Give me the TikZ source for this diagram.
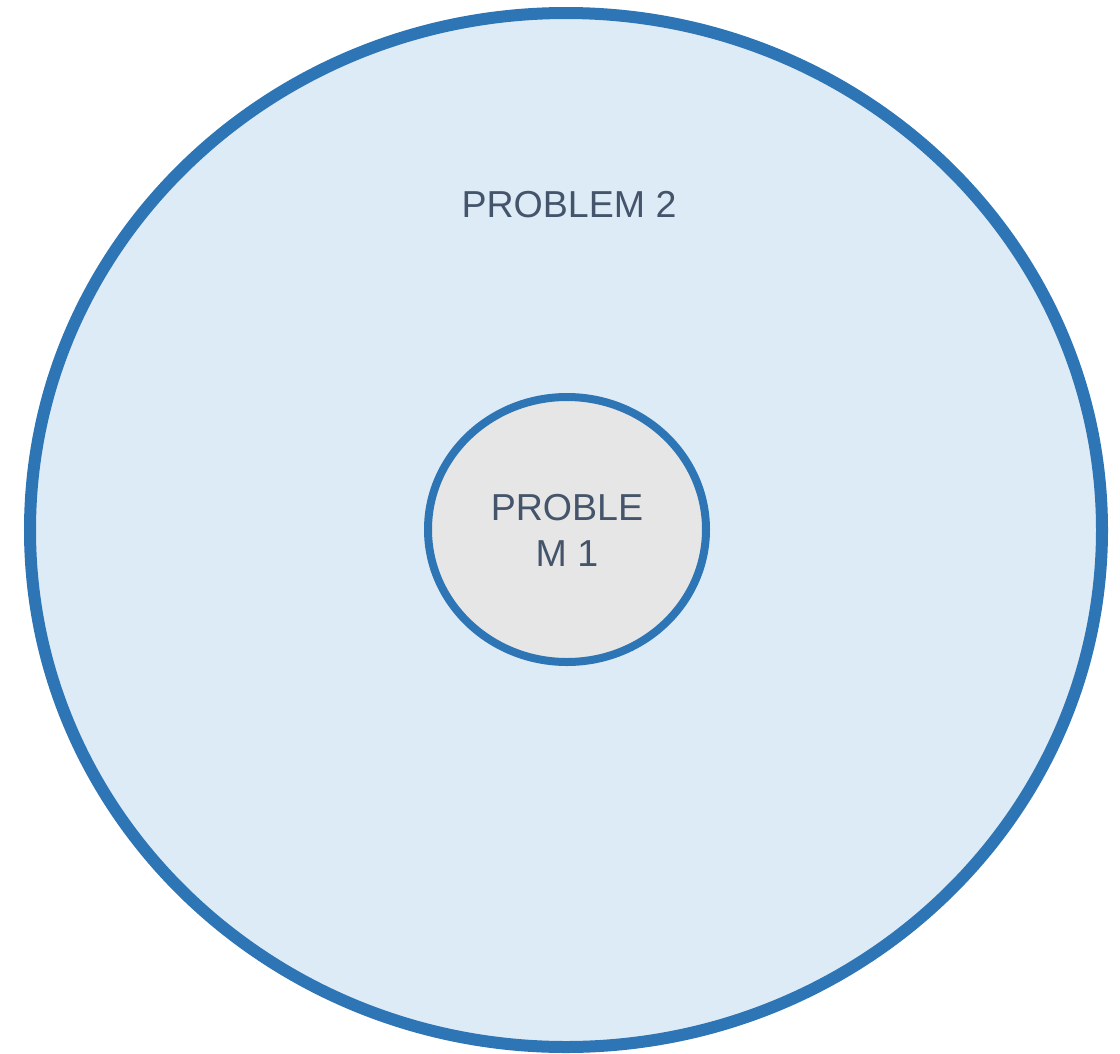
\documentclass[tikz,border=0pt]{standalone}
\usepackage{fontspec}
\setmainfont{Liberation Sans}
\usepackage{tikz}
\usetikzlibrary{shapes.geometric}
\definecolor{ringblue}{RGB}{46,117,182}
\definecolor{outerfill}{RGB}{221,235,247}
\definecolor{innerfill}{RGB}{230,230,230}
\definecolor{labelgray}{RGB}{68,84,106}
\newcommand{\problemfont}{\fontsize{26.7}{32.7}\selectfont}

\begin{document}
\begin{tikzpicture}[x=0.025cm,y=-0.025cm,
    ring/.style={ellipse, draw=ringblue, inner sep=0pt},
    label/.style={text=labelgray, font=\problemfont, align=center}]
    \useasboundingbox (0,0) rectangle (1120,1054);
    % Outer set
    \node[ring, fill=outerfill, line width=0.3cm, minimum width=1072*0.025cm, minimum height=1034*0.025cm] (outer) at (566,530) {};
    \node[label] (outerlabel) at (569,205) {PROBLEM 2};
    % Inner set
    \node[ring, fill=innerfill, line width=0.2cm, minimum width=278*0.025cm, minimum height=265*0.025cm] (inner) at (567,529.5) {};
    \node[label] (innerlabel) at (567,530) {PROBLE\\M 1};
\end{tikzpicture}
\end{document}
